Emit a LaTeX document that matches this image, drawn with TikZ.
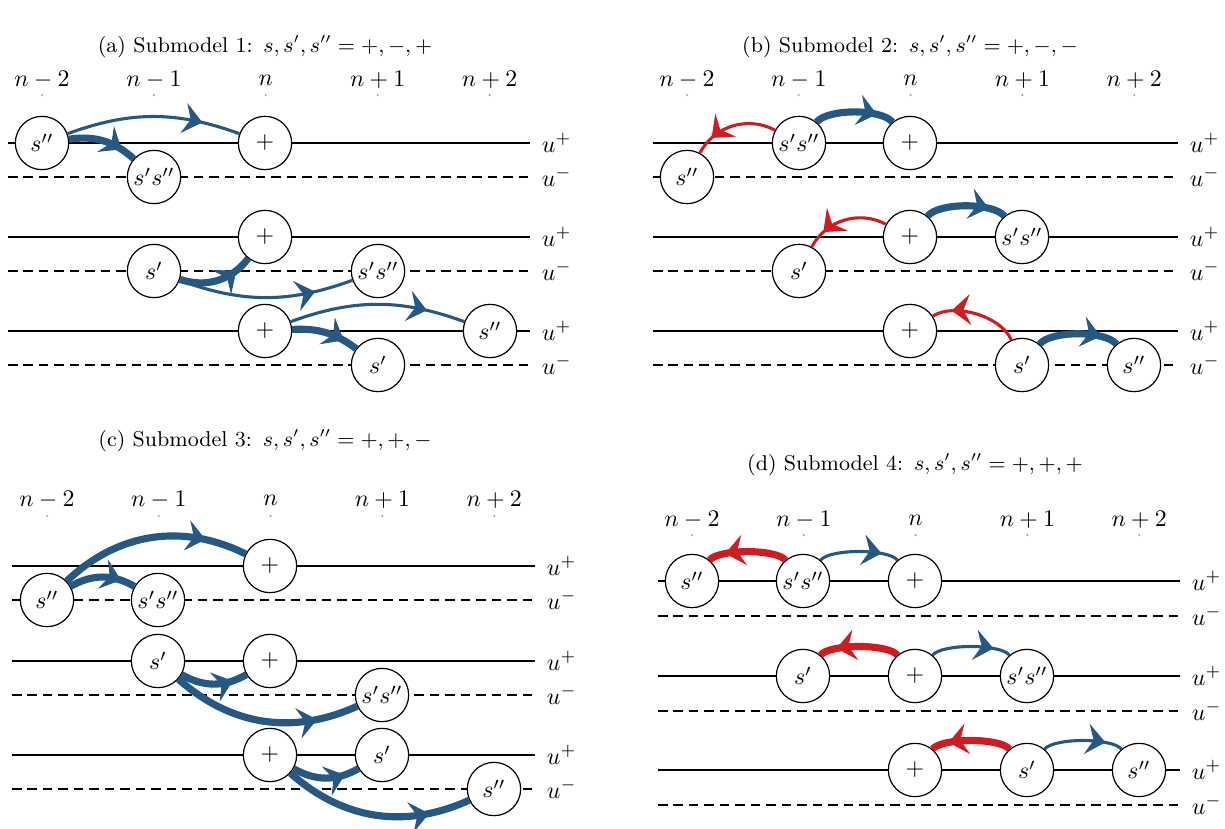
\documentclass[tikz,border=0pt]{standalone}
\usepackage{amsmath}
\usepackage{xcolor}
\usepackage{tikz}
\usetikzlibrary{arrows.meta,positioning,decorations.markings}
\definecolor{hopblue}{RGB}{38,88,132}
\definecolor{hopred}{RGB}{208,28,32}

\begin{document}
\begin{tikzpicture}[
    x=0.42pt, y=-0.42pt,
    site/.style={draw, circle, fill=white, minimum size=22.4pt, inner sep=0pt, line width=0.5pt},
    title/.style={font=\small},
    tick/.style={fill=gray!70},
    upper/.style={line width=0.45pt},
    lower/.style={line width=0.45pt, dash pattern=on 4pt off 2.5pt},
    ulab/.style={right, inner sep=0pt, xshift=4.8pt, text=black},
    midarrow/.style={postaction={decorate}, decoration={markings, mark=at position 0.78 with {\arrow{Stealth[length=8pt,width=13pt,inset=3pt,line width=0.4pt]}}}},
    fwd/.style={hopblue, line width=1.3pt, midarrow},
    fwdthick/.style={fwd, line width=3pt},
    bwd/.style={hopred, line width=1.3pt, midarrow},
    bwdthick/.style={bwd, line width=3pt}
]
    \useasboundingbox (0,0) rectangle (1225,829);

    % (a)
    \node[title] (ta) at (265,47) {(a) Submodel 1:\enspace$s,s',s''=+,-,+$};
    \foreach \lab [count=\i from 0] in {n-2,n-1,n,n+1,n+2} {
        \node (acol\i) at (42+111.9*\i,80) {$\lab$};
        \fill[tick] (42+111.9*\i,95) circle (0.5pt);
    }
    \foreach \y in {143,237,331} {
        \draw[upper] (8,\y) -- (530,\y) node[ulab] {$u^+$};
        \draw[lower] (8,\y+34) -- (530,\y+34) node[ulab] {$u^-$};
    }
    \node[site] (a1s2) at (42,143) {$s''$};
    \node[site] (a1s12) at (154,177) {$s's''$};
    \node[site] (a1p) at (265,143) {$+$};
    \node[site] (a2p) at (265,237) {$+$};
    \node[site] (a2s1) at (154,271) {$s'$};
    \node[site] (a2s12) at (378,271) {$s's''$};
    \node[site] (a3p) at (265,331) {$+$};
    \node[site] (a3s2) at (490,331) {$s''$};
    \node[site] (a3s1) at (378,365) {$s'$};
    \draw[fwd] (a1s2) to[bend left=20] (a1p);
    \draw[fwdthick] (a1s2) to[bend left=25] (a1s12);
    \draw[fwdthick] (a2s1) to[bend right=35] (a2p);
    \draw[fwd] (a2s1) to[bend right=20] (a2s12);
    \draw[fwd] (a3p) to[bend left=20] (a3s2);
    \draw[fwdthick] (a3p) to[bend left=20] (a3s1);

    % (b)
    \node[title] (tb) at (910,47) {(b) Submodel 2:\enspace$s,s',s''=+,-,-$};
    \foreach \lab [count=\i from 0] in {n-2,n-1,n,n+1,n+2} {
        \node (bcol\i) at (687+111.8*\i,80) {$\lab$};
        \fill[tick] (687+111.8*\i,95) circle (0.5pt);
    }
    \foreach \y in {143,237,331} {
        \draw[upper] (653,\y) -- (1178,\y) node[ulab] {$u^+$};
        \draw[lower] (653,\y+34) -- (1178,\y+34) node[ulab] {$u^-$};
    }
    \node[site] (b1s2) at (687,177) {$s''$};
    \node[site] (b1s12) at (799,143) {$s's''$};
    \node[site] (b1p) at (910,143) {$+$};
    \node[site] (b2p) at (910,237) {$+$};
    \node[site] (b2s1) at (799,271) {$s'$};
    \node[site] (b2s12) at (1022,237) {$s's''$};
    \node[site] (b3p) at (910,331) {$+$};
    \node[site] (b3s1) at (1022,365) {$s'$};
    \node[site] (b3s2) at (1134,365) {$s''$};
    \draw[bwd] (b1s12) to[bend right=45] (b1s2);
    \draw[fwdthick] (b1s12) to[bend left=50, looseness=0.6] (b1p);
    \draw[bwd] (b2p) to[bend right=45] (b2s1);
    \draw[fwdthick] (b2p) to[bend left=50, looseness=0.6] (b2s12);
    \draw[bwd] (b3s1) to[bend right=50, looseness=0.8] (b3p);
    \draw[fwdthick] (b3s1) to[bend left=50, looseness=0.6] (b3s2);

    % (c)
    \node[title] (tc) at (265,441) {(c) Submodel 3:\enspace$s,s',s''=+,+,-$};
    \foreach \lab [count=\i from 0] in {n-2,n-1,n,n+1,n+2} {
        \node (ccol\i) at (47+111.8*\i,500) {$\lab$};
        \fill[tick] (47+111.8*\i,516) circle (0.5pt);
    }
    \foreach \y in {566,661,755} {
        \draw[upper] (12,\y) -- (535,\y) node[ulab] {$u^+$};
        \draw[lower] (12,\y+34) -- (535,\y+34) node[ulab] {$u^-$};
    }
    \node[site] (c1s2) at (47,600) {$s''$};
    \node[site] (c1s12) at (158,600) {$s's''$};
    \node[site] (c1p) at (270,566) {$+$};
    \node[site] (c2s1) at (158,661) {$s'$};
    \node[site] (c2p) at (270,661) {$+$};
    \node[site] (c2s12) at (382,695) {$s's''$};
    \node[site] (c3p) at (270,755) {$+$};
    \node[site] (c3s1) at (382,755) {$s'$};
    \node[site] (c3s2) at (494,789) {$s''$};
    \draw[fwdthick] (c1s2) to[bend left=35] (c1p);
    \draw[fwdthick] (c1s2) to[bend left=30] (c1s12);
    \draw[fwdthick] (c2s1) to[bend right=30] (c2p);
    \draw[fwdthick] (c2s1) to[bend right=33] (c2s12);
    \draw[fwdthick] (c3p) to[bend right=30] (c3s1);
    \draw[fwdthick] (c3p) to[bend right=33] (c3s2);

    % (d)
    \node[title] (td) at (915,465) {(d) Submodel 4:\enspace$s,s',s''=+,+,+$};
    \foreach \lab [count=\i from 0] in {n-2,n-1,n,n+1,n+2} {
        \node (dcol\i) at (692+111.8*\i,520) {$\lab$};
        \fill[tick] (692+111.8*\i,535) circle (0.5pt);
    }
    \foreach \y in {581,676,770} {
        \draw[upper] (658,\y) -- (1180,\y) node[ulab] {$u^+$};
        \draw[lower] (658,\y+35) -- (1180,\y+35) node[ulab] {$u^-$};
    }
    \node[site] (d1s2) at (692,581) {$s''$};
    \node[site] (d1s12) at (803,581) {$s's''$};
    \node[site] (d1p) at (915,581) {$+$};
    \node[site] (d2s1) at (803,676) {$s'$};
    \node[site] (d2p) at (915,676) {$+$};
    \node[site] (d2s12) at (1027,676) {$s's''$};
    \node[site] (d3p) at (915,770) {$+$};
    \node[site] (d3s1) at (1027,770) {$s'$};
    \node[site] (d3s2) at (1139,770) {$s''$};
    \draw[bwdthick] (d1s12) to[bend right=50, looseness=0.5] (d1s2);
    \draw[fwd] (d1s12) to[bend left=50, looseness=0.5] (d1p);
    \draw[bwdthick] (d2p) to[bend right=50, looseness=0.5] (d2s1);
    \draw[fwd] (d2p) to[bend left=50, looseness=0.5] (d2s12);
    \draw[bwdthick] (d3s1) to[bend right=50, looseness=0.5] (d3p);
    \draw[fwd] (d3s1) to[bend left=50, looseness=0.5] (d3s2);
\end{tikzpicture}
\end{document}
